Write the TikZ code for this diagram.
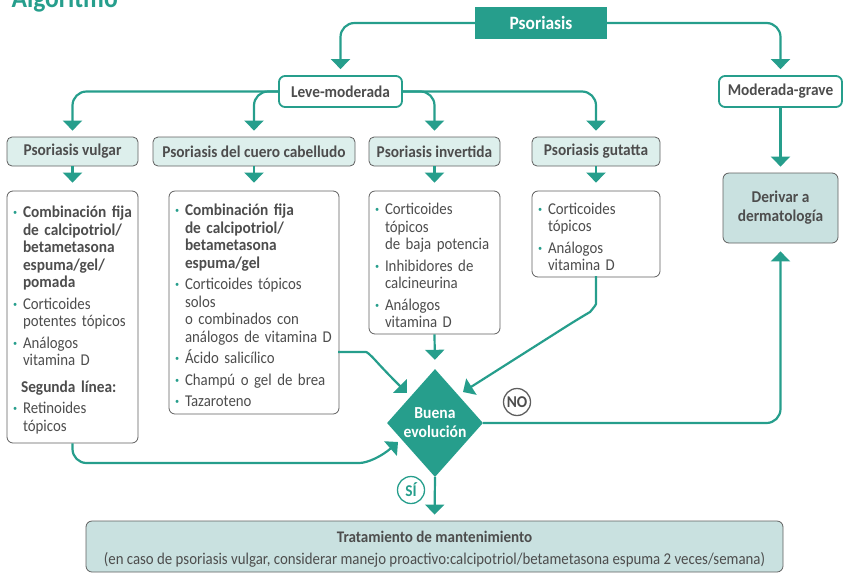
\documentclass[tikz,border=0pt]{standalone}
\usepackage{fontspec}
\setmainfont{Carlito}[FakeStretch=0.9, BoldFeatures={FakeStretch=0.93}]
\usetikzlibrary{arrows.meta}
\usetikzlibrary{shapes.geometric}
\usetikzlibrary{positioning}

\definecolor{psteal}{RGB}{38,158,140}
\definecolor{pslight}{RGB}{221,239,236}
\definecolor{psfill}{RGB}{201,225,224}
\definecolor{psgray}{RGB}{77,77,77}
\definecolor{psedge}{RGB}{95,95,95}

% list items inside the treatment boxes
\newcommand{\firstitm}{\par\hangindent=10pt\hangafter=1\noindent\makebox[10pt][l]{\textcolor{psteal}{\bfseries\textperiodcentered}}}
\newcommand{\itm}{\par\vspace{4pt}\firstitm}

\tikzset{
  conn/.style={draw=psteal, line width=2.2pt, rounded corners=14pt, -{Triangle[width=19pt,length=10pt]}},
  topbox/.style={fill=psteal, text=white, font=\bfseries\fontsize{18.8}{18.8}\selectfont, minimum width=132pt, minimum height=32pt, inner sep=0pt},
  gradebox/.style={draw=psteal, line width=1.8pt, rounded corners=6pt, fill=white, text=psgray, font=\bfseries\fontsize{16.5}{16.5}\selectfont, minimum width=123pt, minimum height=31pt, inner sep=0pt},
  typebox/.style={draw=psedge, line width=0.8pt, rounded corners=5pt, fill=pslight, text=psgray, font=\bfseries\fontsize{16.5}{16.5}\selectfont, minimum height=29pt, inner sep=0pt},
  listbox/.style={draw=psedge, line width=0.8pt, rounded corners=6pt, fill=white, text=psgray, align=left, inner xsep=6pt, inner ysep=0pt, font=\fontsize{16.5}{17.5}\selectfont},
  refbox/.style={draw=psedge, line width=0.8pt, rounded corners=6pt, fill=psfill, text=psgray, align=center, inner sep=0pt},
  decision/.style={diamond, fill=psteal, minimum width=96pt, minimum height=108pt, inner sep=0pt},
  answer/.style={circle, line width=1.3pt, minimum size=27pt, inner sep=0pt, font=\bfseries\fontsize{16.5}{16.5}\selectfont}
}

\begin{document}
\begin{tikzpicture}[x=1pt,y=-1pt]
\useasboundingbox (0,0) rectangle (843,574);

\node[anchor=base west, text=psteal, font=\bfseries\fontsize{27.5}{27.5}\selectfont] (titulo) at (8,7) {Algoritmo};

% top levels
\node[topbox] (psor) at (541,23) {Psoriasis};
\node[gradebox] (leve) at (340.5,91.5) {Leve-moderada};
\node[gradebox] (grave) at (780.5,91.5) {Moderada-grave};

% types
\node[typebox, minimum width=131pt] (vulgar) at (72.5,151.5) {Psoriasis vulgar};
\node[typebox, minimum width=202pt] (cuero) at (254,151.5) {Psoriasis del cuero cabelludo};
\node[typebox, minimum width=131pt] (invert) at (434.5,151.5) {Psoriasis invertida};
\node[typebox, minimum width=128pt] (gutat) at (596,151.5) {Psoriasis gutatta};

% treatments
\node[listbox, text width=119pt, minimum height=252pt] (vulgarT) at (72.5,317) {%
\firstitm{\bfseries Combinación fija\newline de calcipotriol/\newline betametasona\newline espuma/gel/\newline pomada}
\itm Corticoides\newline potentes tópicos
\itm Análogos\newline vitamina D
\par\vspace{9pt}\noindent\hspace{8pt}{\bfseries Segunda línea:}
\itm Retinoides\newline tópicos\par};
\node[listbox, text width=158pt, minimum height=223pt] (cueroT) at (254,302.5) {%
\firstitm{\bfseries Combinación fija\newline de calcipotriol/\newline betametasona\newline espuma/gel}
\itm Corticoides tópicos\newline solos\newline o combinados con\newline análogos de vitamina D
\itm Ácido salicílico
\itm Champú o gel de brea
\itm Tazaroteno\par};
\node[listbox, text width=119pt, minimum height=143pt] (invertT) at (434.5,262.5) {%
\firstitm Corticoides\newline tópicos\newline de baja potencia
\itm Inhibidores de\newline calcineurina
\itm Análogos\newline vitamina D\par};
\node[listbox, text width=116pt, minimum height=86pt] (gutatT) at (596,234) {%
\firstitm Corticoides\newline tópicos
\itm Análogos\newline vitamina D\par};

\node[refbox, minimum width=115pt, minimum height=70pt, font=\bfseries\fontsize{16.5}{19}\selectfont] (derivar) at (780.5,208) {Derivar a\\dermatología};

% decision
\node[decision] (evol) at (435,423) {};
\node[text=white, align=center, font=\bfseries\fontsize{16.8}{19}\selectfont] (evoltxt) at (evol.center) {Buena\\evolución};
\node[answer, draw=psedge, text=psgray] (no) at (517,402) {NO};
\node[answer, draw=psteal, text=psteal] (si) at (411,490) {SÍ};

\node[refbox, minimum width=697pt, minimum height=51pt, font=\fontsize{16.5}{22}\selectfont] (mant) at (434.5,546.5) {\rule{0pt}{17pt}{\bfseries\fontsize{16.2}{22}\selectfont Tratamiento de mantenimiento}\\(en caso de psoriasis vulgar, considerar manejo proactivo:calcipotriol/betametasona espuma 2 veces/semana)};

% end points near the diamond
\coordinate (cueOut) at (339,352);
\coordinate (cueIn) at (407,393);
\coordinate (gutIn) at (463,392);
\coordinate (vulIn) at (398,442);

% connectors
\draw[conn, shorten >=6pt] (psor.west) -| (leve.north);
\draw[conn, shorten >=6pt] (psor.east) -| (grave.north);
\draw[conn, shorten >=6pt] (leve.west) -| (vulgar.north);
\draw[conn, shorten >=6pt] (leve.west) -| (cuero.north);
\draw[conn, shorten >=6pt] (leve.east) -| (invert.north);
\draw[conn, shorten >=6pt] (leve.east) -| (gutat.north);
\draw[conn, shorten >=6pt] (grave.south) -- (derivar.north);

\draw[conn, shorten >=8pt] (vulgar.south) -- (vulgarT.north);
\draw[conn, shorten >=8pt] (cuero.south) -- (cueroT.north);
\draw[conn, shorten >=8pt] (invert.south) -- (invertT.north);
\draw[conn, shorten >=8pt] (gutat.south) -- (gutatT.north);

\draw[conn, shorten >=9pt] (invertT.south) -- (evol.north);
\draw[conn] (gutatT.south) -- (596,290) .. controls (596,305) and (590,312) .. (578,319) -- (gutIn);
\draw[conn] (cueOut) -- (352,352) .. controls (368,352) and (376,361) .. (386,372) -- (cueIn);
\draw[conn] (vulgarT.south) |- (345,463) .. controls (368,463) and (382,456) .. (vulIn);

\draw[conn, shorten >=8pt] (evol.east) -| (derivar.south); % NO
\draw[conn, shorten >=6pt] (evol.south) -- (mant.north); % SI
\end{tikzpicture}
\end{document}
